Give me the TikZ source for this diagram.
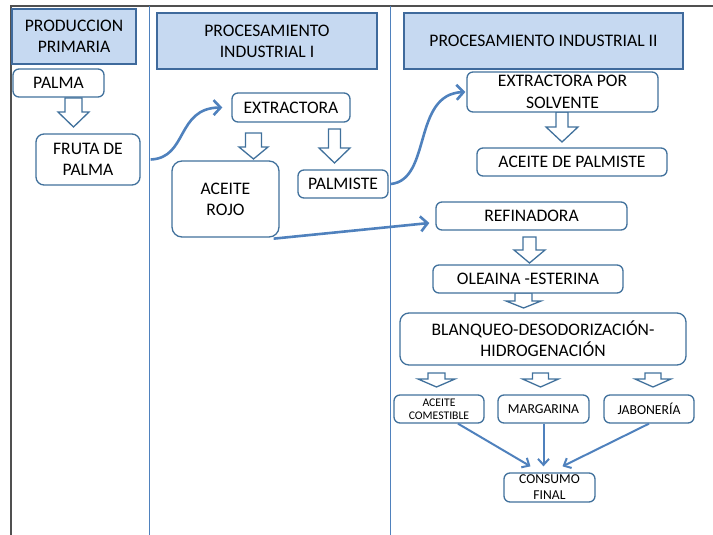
\documentclass[tikz,border=0pt]{standalone}
\usepackage{fontspec}
\setmainfont{Carlito}
\usetikzlibrary{arrows.meta}
\definecolor{hfill}{HTML}{C6D9F1}
\definecolor{hdraw}{HTML}{3F6A9C}
\definecolor{bdraw}{HTML}{41719C}
\definecolor{conn}{HTML}{4F81BD}
\definecolor{framec}{HTML}{505050}
\newcommand{\hollowdown}[6]{%
  \draw[blk] ({#1-#5},#2) -- ({#1+#5},#2) -- ({#1+#5},#3) -- ({#1+#6},#3) -- (#1,#4) -- ({#1-#6},#3) -- ({#1-#5},#3) -- cycle;}
\begin{document}
\begin{tikzpicture}[x=1pt,y=-1pt,
  hdr/.style={draw=hdraw, line width=1.3pt, fill=hfill, inner sep=0pt, align=center,
    font=\fontsize{17.6}{21}\selectfont},
  box/.style={draw=bdraw, line width=1.3pt, fill=white, rounded corners=6pt, inner sep=0pt,
    align=center, font=\fontsize{17.6}{21}\selectfont},
  sbox/.style={box, font=\fontsize{13.7}{16}\selectfont},
  blk/.style={draw=bdraw, line width=1.3pt, fill=white, line join=miter},
  curv/.style={draw=conn, line width=2.6pt, -{Straight Barb[length=7pt,width=15pt]}},
  fin/.style={draw=conn, line width=2pt, -{Straight Barb[length=6pt,width=11pt]}}]
\useasboundingbox (0,0) rectangle (713,535);
% frame and column lines
\draw[framec, line width=1.5pt] (10,6) -- (713,6);
\draw[framec, line width=2pt] (11,6) -- (11,535);
\draw[conn, line width=0.9pt] (149.5,6) -- (149.5,535);
\draw[conn, line width=0.9pt] (390.5,6) -- (390.5,535);
% headers
\node[hdr, minimum width=124pt, minimum height=55pt] (h1) at (74,36.5) {PRODUCCION\\PRIMARIA};
\node[hdr, minimum width=220pt, minimum height=56pt] (h2) at (267,41) {PROCESAMIENTO\\INDUSTRIAL I};
\node[hdr, minimum width=279pt, minimum height=56pt] (h3) at (543.5,41) {PROCESAMIENTO INDUSTRIAL II};
% block arrows
\hollowdown{73.5}{98}{112}{127}{8.5}{15.5}
\hollowdown{253.5}{133}{147}{159}{8}{14.5}
\hollowdown{334.5}{129}{148}{163}{6}{15.5}
\hollowdown{562}{112}{127}{142}{6}{16}
\hollowdown{529.5}{237}{250}{263}{6.5}{15.5}
\hollowdown{523.5}{293}{301}{308}{8.5}{17.5}
\hollowdown{436.5}{373}{379}{387}{8.5}{18.5}
\hollowdown{540.5}{373}{379}{387}{8}{18}
\hollowdown{653}{373}{379}{387}{8}{18}
% boxes
\node[box, minimum width=91pt, minimum height=28pt] (palma) at (58.5,83) {PALMA};
\node[box, minimum width=104pt, minimum height=51pt, rounded corners=8pt] (fruta) at (88,159.5) {FRUTA DE\\PALMA};
\node[box, minimum width=118pt, minimum height=29pt] (extr) at (291,107.5) {EXTRACTORA};
\node[box, minimum width=107pt, minimum height=76pt, rounded corners=10pt] (rojo) at (225.5,199) {ACEITE\\ROJO};
\node[box, minimum width=90pt, minimum height=28pt] (palmiste) at (343,184) {PALMISTE};
\node[box, minimum width=191pt, minimum height=40pt, font=\fontsize{17.6}{22}\selectfont] (solv) at (562.5,92) {EXTRACTORA POR\\SOLVENTE};
\node[box, minimum width=190pt, minimum height=28pt] (acpalm) at (572,162) {ACEITE DE PALMISTE};
\node[box, minimum width=191pt, minimum height=28pt] (refin) at (531.5,216) {REFINADORA};
\node[box, minimum width=190pt, minimum height=28pt] (olea) at (528,279) {OLEAINA -ESTERINA};
\node[box, minimum width=286pt, minimum height=52pt, rounded corners=9pt] (blanq) at (543,339) {BLANQUEO-DESODORIZACIÓN-\\HIDROGENACIÓN};
\node[box, minimum width=90pt, minimum height=28pt, font=\fontsize{11.7}{12.5}\selectfont] (comest) at (439,409) {ACEITE\\COMESTIBLE};
\node[sbox, minimum width=91pt, minimum height=28pt] (marg) at (543.5,409) {MARGARINA};
\node[sbox, minimum width=90pt, minimum height=28pt] (jabon) at (649,409) {JABONERÍA};
\node[box, minimum width=91pt, minimum height=29pt, font=\fontsize{13.6}{16}\selectfont] (cons) at (549.5,487.5) {CONSUMO\\FINAL};
% curved connectors
\draw[curv] ([xshift=10pt]fruta.east) .. controls (188,158) and (176,108) .. ([xshift=-9pt]extr.west);
\draw[curv] ([xshift=2pt]palmiste.east) .. controls (432,180) and (412,94) .. ([xshift=-1pt]solv.west);
\draw[curv] ([xshift=-6pt,yshift=-1pt]rojo.south east) -- ([shift={(-6,7)}]refin.west);
% final connectors
\draw[fin] ([xshift=19pt]comest.south) -- ([shift={(-19,-6)}]cons.north);
\draw[fin] (marg.south) -- ([shift={(-6,-6)}]cons.north);
\draw[fin] (jabon.south) -- ([shift={(13,-6)}]cons.north);
\end{tikzpicture}
\end{document}
